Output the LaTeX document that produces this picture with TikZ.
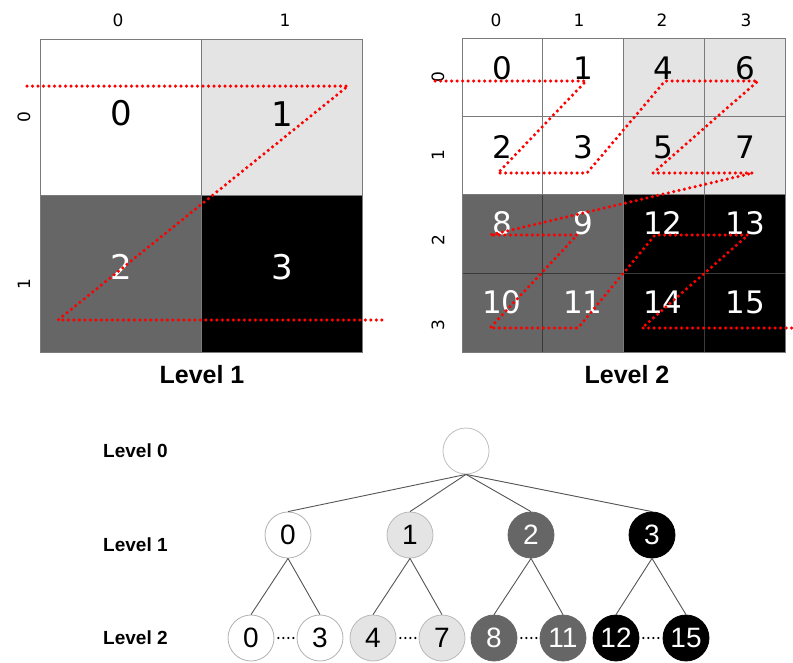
\documentclass[tikz,border=0pt]{standalone}
\usepackage{fontspec}
\setmainfont{Liberation Sans}
\newfontfamily\dvs{DejaVu Sans}
\definecolor{lgray}{HTML}{E4E4E4}
\definecolor{dgray}{HTML}{666666}
\definecolor{gline}{HTML}{7A7A7A}
\definecolor{gdark}{HTML}{3A3A3A}
\definecolor{tedge}{HTML}{555555}
\begin{document}
\begin{tikzpicture}[x=1pt,y=-1pt,
  gridline/.style={draw=gline, line width=0.9pt},
  darkline/.style={draw=gdark, line width=0.9pt},
  zline/.style={red, line width=3.5pt, dash pattern=on 0pt off 5.5pt, line cap=round, line join=round},
  bigdig/.style={inner sep=0pt, font=\dvs\fontsize{34}{34}\selectfont},
  meddig/.style={inner sep=0pt, font=\dvs\fontsize{31}{31}\selectfont},
  axlab/.style={inner sep=0pt, font=\dvs\fontsize{17}{17}\selectfont},
  title/.style={inner sep=0pt, font=\bfseries\fontsize{25}{25}\selectfont},
  lvl/.style={inner sep=0pt, anchor=west, font=\bfseries\fontsize{19}{19}\selectfont},
  tnode/.style={circle, minimum size=46pt, inner sep=0pt, line width=0.8pt, font=\fontsize{28}{28}\selectfont},
  wn/.style={tnode, draw=gray!60, fill=white, text=black},
  ln/.style={tnode, draw=gray!55, fill=lgray, text=black},
  dn/.style={tnode, draw=dgray, fill=dgray, text=white},
  bn/.style={tnode, draw=black, fill=black, text=white},
  tedgest/.style={draw=tedge, line width=0.9pt},
  tdots/.style={black, line width=2.4pt, dash pattern=on 0pt off 5pt, line cap=round, shorten <=4pt, shorten >=2pt}
]
\useasboundingbox (0,0) rectangle (793,662);

% ---------- Left grid (Level 1) ----------
\fill[white] (40,39) rectangle (201,195);
\fill[lgray] (201,39) rectangle (362,195);
\fill[dgray] (40,195) rectangle (201,352);
\fill[black] (201,195) rectangle (362,352);
\draw[gridline] (40,39) rectangle (362,352);
\draw[gridline] (201,39) -- (201,352);
\draw[gridline] (40,195) -- (362,195);

\node[bigdig] (c0) at (121,113) {0};
\node[bigdig] (c1) at (282,114) {1};
\node[bigdig, text=white] (c2) at (121,267) {2};
\node[bigdig, text=white] (c3) at (282,267) {3};

\node[axlab] (lx0) at (118,20) {0};
\node[axlab] (lx1) at (285,20) {1};
\node[axlab, rotate=90] (ly0) at (24,117) {0};
\node[axlab, rotate=90] (ly1) at (24,284) {1};

\draw[zline] (27,86) -- (348,86) -- (58,320) -- (382,320);

\node[title] (t1) at (202,375) {Level 1};

% ---------- Right grid (Level 2) ----------
\fill[white] (462,38) rectangle (623,194.5);
\fill[lgray] (623,38) rectangle (785,194.5);
\fill[dgray] (462,194.5) rectangle (623,352);
\fill[black] (623,194.5) rectangle (785,352);
\foreach \xx in {542.5,623,704} \draw[gridline] (\xx,38) -- (\xx,194.5);
\foreach \xx in {542.5,704} \draw[darkline] (\xx,194.5) -- (\xx,352);
\draw[gridline] (623,194.5) -- (623,352);
\draw[gridline] (462,116.5) -- (785,116.5);
\draw[darkline] (462,273) -- (785,273);
\draw[gridline] (462,194.5) -- (785,194.5);
\draw[gridline] (462,38) rectangle (785,352);

\node[meddig] (r0) at (502,68) {0};
\node[meddig] (r1) at (583,68) {1};
\node[meddig] (r4) at (663,68) {4};
\node[meddig] (r6) at (745,68) {6};
\node[meddig] (r2) at (502,147) {2};
\node[meddig] (r3) at (583,147) {3};
\node[meddig] (r5) at (663,147) {5};
\node[meddig] (r7) at (745,147) {7};
\node[meddig, text=white] (r8) at (502,223) {8};
\node[meddig, text=white] (r9) at (583,223) {9};
\node[meddig, text=white] (r12) at (663,223) {12};
\node[meddig, text=white] (r13) at (745,223) {13};
\node[meddig, text=white] (r10) at (502,302) {10};
\node[meddig, text=white] (r11) at (583,302) {11};
\node[meddig, text=white] (r14) at (663,302) {14};
\node[meddig, text=white] (r15) at (745,302) {15};

\node[axlab] (rx0) at (496,20) {0};
\node[axlab] (rx1) at (579,20) {1};
\node[axlab] (rx2) at (662,20) {2};
\node[axlab] (rx3) at (746,20) {3};
\node[axlab, rotate=90] (ry0) at (438,77) {0};
\node[axlab, rotate=90] (ry1) at (438,155) {1};
\node[axlab, rotate=90] (ry2) at (438,240) {2};
\node[axlab, rotate=90] (ry3) at (438,325) {3};

\draw[zline] (435,81) -- (586,81) -- (498,173) -- (587,173) -- (665,81) -- (758,81)
  -- (653,173) -- (753,173) -- (490,235) -- (577,235) -- (490,328) -- (578,328)
  -- (655,235) -- (748,235) -- (642,328) -- (795,328);

\node[title] (t2) at (627,375) {Level 2};

% ---------- Tree ----------
\node[lvl] (lv0) at (103,451) {Level 0};
\node[lvl] (lv1) at (103,545) {Level 1};
\node[lvl] (lv2) at (103,638) {Level 2};

\node[wn, draw=gray!50] (root) at (466,451) {};
\node[wn] (a0) at (288,535) {0};
\node[ln] (a1) at (410,535) {1};
\node[dn] (a2) at (531,535) {2};
\node[bn] (a3) at (652,535) {3};

\node[wn] (b0) at (251,638) {0};
\node[wn] (b3) at (320,638) {3};
\node[ln] (b4) at (373,638) {4};
\node[ln] (b7) at (442,638) {7};
\node[dn] (b8) at (494,638) {8};
\node[dn] (b11) at (563,638) {11};
\node[bn] (b12) at (616,638) {12};
\node[bn] (b15) at (686,638) {15};

\foreach \c in {a0,a1,a2,a3} \draw[tedgest] (root.south) -- (\c.north);
\draw[tedgest] (a0.south) -- (b0.north);
\draw[tedgest] (a0.south) -- (b3.north);
\draw[tedgest] (a1.south) -- (b4.north);
\draw[tedgest] (a1.south) -- (b7.north);
\draw[tedgest] (a2.south) -- (b8.north);
\draw[tedgest] (a2.south) -- (b11.north);
\draw[tedgest] (a3.south) -- (b12.north);
\draw[tedgest] (a3.south) -- (b15.north);

\draw[tdots] (b0) -- (b3);
\draw[tdots] (b4) -- (b7);
\draw[tdots] (b8) -- (b11);
\draw[tdots] (b12) -- (b15);
\end{tikzpicture}
\end{document}
